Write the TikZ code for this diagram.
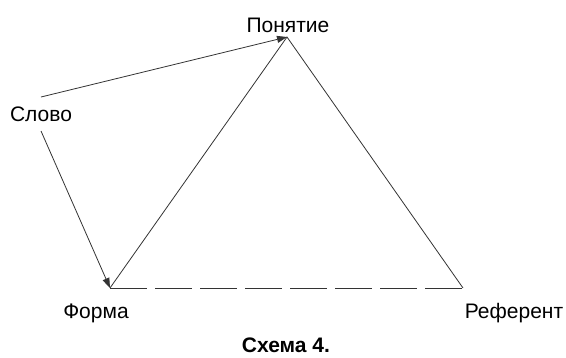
\documentclass[tikz,border=0pt]{standalone}
\usepackage{fontspec}
\setmainfont{Liberation Sans}
\usetikzlibrary{arrows.meta}
\begin{document}
\begin{tikzpicture}[x=1pt,y=-1pt,
  lbl/.style={font=\fontsize{21}{24}\selectfont, inner sep=0pt},
  edge/.style={draw=black!80, line width=0.8pt},
  arr/.style={edge, -{Triangle[length=10pt,width=7pt]}}]
\useasboundingbox (0,0) rectangle (566,357);
% vertices
\coordinate (pon) at (287,37);
\coordinate (form) at (110,288);
\coordinate (ref) at (463,288);
\coordinate (s1) at (41,97);
\coordinate (s2) at (41,131);
% labels
\node[lbl] (lpon) at (288,25) {Понятие};
\node[lbl] (lslovo) at (41,114) {Слово};
\node[lbl] (lform) at (96,313) {Форма};
\node[lbl] (lref) at (514,313) {Референт};
\node[lbl, font=\fontsize{21}{24}\selectfont\bfseries] (cap) at (286,345) {Схема 4.};
% edges
\draw[edge] (form) -- (pon) -- (ref);
\draw[edge, dash pattern=on 37pt off 8pt] (form) -- (ref);
\draw[arr] (s1) -- (pon);
\draw[arr] (s2) -- (form);
\end{tikzpicture}
\end{document}
